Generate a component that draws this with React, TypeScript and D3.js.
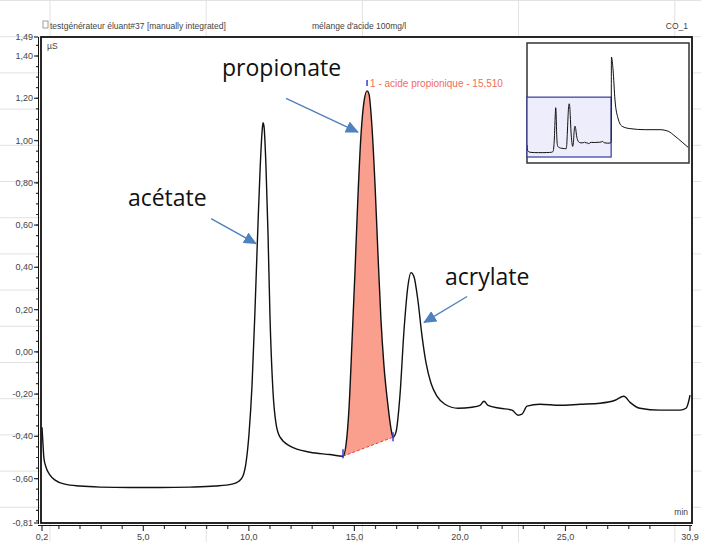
import * as d3 from "d3";

// chromatogram trace (min, µS)
const TIME = [
  0.2, 0.25, 0.29, 0.39, 0.58, 0.82, 1.29, 2.0, 2.95, 4.37, 5.79, 7.21, 8.4, 9.2, 9.53, 9.72, 9.87,
  10.01, 10.15, 10.29, 10.43, 10.53, 10.62, 10.67, 10.72, 10.81, 10.91, 11.0, 11.14, 11.29, 11.48,
  11.95, 12.9, 13.84, 14.46, 14.6, 14.74, 14.89, 15.03, 15.17, 15.31, 15.46, 15.6, 15.69, 15.83,
  15.98, 16.12, 16.26, 16.4, 16.59, 16.73, 16.83, 16.97, 17.16, 17.35, 17.54, 17.68, 17.82, 18.01,
  18.2, 18.39, 18.63, 18.91, 19.29, 19.91, 20.57, 20.95, 21.14, 21.33, 21.9, 22.47, 22.75, 22.94,
  23.18, 23.79, 24.74, 25.69, 26.64, 27.35, 27.77, 28.06, 28.53, 29.48, 30.43, 30.71, 30.85, 30.9,
];
const SIGNAL = [
  -0.357, -0.442, -0.503, -0.546, -0.583, -0.607, -0.626, -0.635, -0.64, -0.642, -0.642, -0.64,
  -0.635, -0.626, -0.612, -0.588, -0.522, -0.385, -0.158, 0.196, 0.597, 0.857, 1.032, 1.084, 1.065,
  0.881, 0.55, 0.172, -0.182, -0.342, -0.404, -0.446, -0.475, -0.486, -0.494, -0.442, -0.276, 0.054,
  0.385, 0.739, 1.022, 1.188, 1.235, 1.221, 1.07, 0.786, 0.456, 0.149, -0.064, -0.253, -0.361,
  -0.404, -0.38, -0.205, 0.101, 0.314, 0.375, 0.357, 0.243, 0.078, -0.05, -0.149, -0.21, -0.248,
  -0.267, -0.262, -0.253, -0.234, -0.253, -0.267, -0.276, -0.3, -0.295, -0.257, -0.248, -0.253,
  -0.248, -0.243, -0.229, -0.21, -0.239, -0.267, -0.276, -0.276, -0.267, -0.229, -0.205,
];
// rest of the run, only visible in the overview inset
const TAIL_TIME = [31.0, 31.6, 32.3, 33.4, 34.9, 37.8, 43.3, 48.7, 51.7, 54.2, 56.8, 59.0];
const TAIL_SIGNAL = [3.03, 2.53, 1.38, 0.68, 0.37, 0.28, 0.24, 0.24, 0.18, -0.01, -0.24, -0.44];

// manual integration of the propionate peak
const INT_START = 14.46;
const INT_END = 16.83;
const PEAK_TIME = 15.6;
const PEAK_VALUE = 1.235;
const PEAK_LABEL = "1 - acide propionique - 15,510";

const X_TICKS = [0.2, 5, 10, 15, 20, 25, 30.9];
const Y_TICKS = [1.49, 1.4, 1.2, 1.0, 0.8, 0.6, 0.4, 0.2, 0, -0.2, -0.4, -0.6, -0.81];

const ANNOTATIONS = [
  { text: "propionate", at: [8.73, 1.306], from: [11.76, 1.2], to: [15.17, 1.04] },
  { text: "acétate", at: [4.27, 0.692], from: [8.21, 0.63], to: [10.34, 0.512] },
  { text: "acrylate", at: [19.29, 0.314], from: [20.34, 0.262], to: [18.3, 0.139] },
];

const W = 701;
const H = 542;

export default function App() {
  const x = d3.scaleLinear().domain([0.2, 30.9]).range([42, 690]);
  const y = d3.scaleLinear().domain([-0.81, 1.49]).range([523, 37]);

  const pts: [number, number][] = TIME.map((t, i) => [t, SIGNAL[i]]);
  const line = d3
    .line<[number, number]>()
    .x((d) => x(d[0]))
    .y((d) => y(d[1]))
    .curve(d3.curveMonotoneX);

  // integrated area: curve between the marks, closed by the straight baseline
  const seg = pts.filter((d) => d[0] >= INT_START && d[0] <= INT_END);
  const first = seg[0];
  const last = seg[seg.length - 1];
  const areaPath = line(seg) + "Z";

  const fmtY = (v: number) => d3.format(".2f")(v).replace(".", ",").replace("−", "-");
  const fmtX = (v: number) => d3.format(".1f")(v).replace(".", ",");

  const minorY = d3.range(-0.8, 1.46, 0.05);
  const minorX = d3.range(1, 31, 1).filter((t) => t % 5 !== 0);

  // overview inset
  const xi = d3.scaleLinear().domain([0.2, 59.3]).range([527, 689]);
  const yi = d3.scaleLinear().domain([-1.04, 3.57]).range([163, 43]);
  const allPts: [number, number][] = pts.concat(TAIL_TIME.map((t, i) => [t, TAIL_SIGNAL[i]] as [number, number]));
  const insetLine = d3
    .line<[number, number]>()
    .x((d) => xi(d[0]))
    .y((d) => yi(d[1]))
    .curve(d3.curveMonotoneX);

  const gridV = d3.range(50, W, 156.2);
  const gridH = d3.range(0.5, H, 36.2);

  const arrowBlue = "#4f81bd";
  const startV = SIGNAL[TIME.indexOf(INT_START)];
  const endV = SIGNAL[TIME.indexOf(INT_END)];

  return (
    <svg
      width={W}
      height={H}
      style={{ position: "absolute", left: 0, top: 0, background: "#fff" }}
      fontFamily="'Liberation Sans', Arial, sans-serif"
    >
      <defs>
        <marker id="ah" markerUnits="userSpaceOnUse" markerWidth="14" markerHeight="12" refX="12" refY="6" orient="auto">
          <path d="M0,0 L13,6 L0,12 Z" fill={arrowBlue} />
        </marker>
        <clipPath id="insetClip">
          <rect x={527} y={43} width={162} height={120} />
        </clipPath>
      </defs>

      {/* page grid behind the screenshot */}
      <g stroke="#e2e2e2" strokeWidth={1}>
        {gridV.map((gx) => (
          <line key={"v" + gx} x1={gx} x2={gx} y1={0} y2={H} />
        ))}
        {gridH.map((gy) => (
          <line key={"h" + gy} x1={0} x2={W} y1={gy} y2={gy} />
        ))}
      </g>
      <rect x={41} y={y(1.49)} width={651} height={y(-0.81) - y(1.49)} fill="#fff" />

      {/* header */}
      <rect x={43} y={21} width={5} height={7} fill="#fff" stroke="#888" strokeWidth={0.8} />
      <g fontSize={8.5} fill="#444">
        <text x={50} y={29}>testgénérateur éluant#37 [manually integrated]</text>
        <text x={312} y={29}>mélange d'acide 100mg/l</text>
        <text x={688} y={29} textAnchor="end">CO_1</text>
        <text x={47} y={49}>µS</text>
        <text x={688} y={515} textAnchor="end">min</text>
      </g>

      {/* integrated peak */}
      <path d={areaPath} fill="#fa9e8e" stroke="none" />
      <line
        x1={x(first[0])}
        y1={y(first[1])}
        x2={x(last[0])}
        y2={y(last[1])}
        stroke="#e53a3a"
        strokeWidth={1}
        strokeDasharray="3,2"
      />

      {/* trace */}
      <path d={line(pts) || ""} fill="none" stroke="#111" strokeWidth={1.4} />

      {/* integration marks */}
      <g stroke="#3a3ad0" strokeWidth={1.5}>
        <line x1={x(INT_START)} x2={x(INT_START)} y1={y(startV) - 7} y2={y(startV) + 2} />
        <line x1={x(INT_END)} x2={x(INT_END)} y1={y(endV) - 5} y2={y(endV) + 4} />
        <line x1={x(PEAK_TIME)} x2={x(PEAK_TIME)} y1={y(PEAK_VALUE) - 11} y2={y(PEAK_VALUE) - 5} />
      </g>
      <text x={x(PEAK_TIME) + 3} y={y(PEAK_VALUE) - 4} fontSize={10} fill="#f26b5b">
        {PEAK_LABEL}
      </text>

      {/* frame and axes */}
      <rect x={41} y={y(1.49)} width={651} height={y(-0.81) - y(1.49)} fill="none" stroke="#111" strokeWidth={1.8} />
      <line x1={38.5} x2={38.5} y1={y(1.49)} y2={y(-0.81) + 1} stroke="#111" strokeWidth={1} />
      <line x1={38} x2={692} y1={525.5} y2={525.5} stroke="#111" strokeWidth={1} />

      <g fill="#444" fontSize={9}>
        {Y_TICKS.map((v) => (
          <g key={"y" + v}>
            <line x1={34} x2={38} y1={y(v)} y2={y(v)} stroke="#333" strokeWidth={1.2} />
            <text x={33} y={y(v) + 3} textAnchor="end">
              {fmtY(v)}
            </text>
          </g>
        ))}
        {minorY.map((v) => (
          <line key={"my" + v} x1={36} x2={38} y1={y(v)} y2={y(v)} stroke="#333" strokeWidth={1.2} />
        ))}
        {X_TICKS.map((t) => (
          <g key={"x" + t}>
            <line x1={x(t)} x2={x(t)} y1={526} y2={531} stroke="#333" strokeWidth={1.2} />
            <text x={x(t)} y={540} textAnchor="middle">
              {fmtX(t)}
            </text>
          </g>
        ))}
        {minorX.map((t) => (
          <line key={"mx" + t} x1={x(t)} x2={x(t)} y1={526} y2={529} stroke="#333" strokeWidth={1.2} />
        ))}
      </g>

      {/* overview inset */}
      <rect x={527} y={43} width={162} height={120} fill="#fff" stroke="#333" strokeWidth={1.5} />
      <rect
        x={xi(0.2)}
        y={yi(1.49)}
        width={xi(30.9) - xi(0.2)}
        height={yi(-0.81) - yi(1.49)}
        fill="#ededfb"
        stroke="#3535a5"
        strokeWidth={1.2}
      />
      <path d={insetLine(allPts) || ""} fill="none" stroke="#111" strokeWidth={1} clipPath="url(#insetClip)" />

      {/* annotations */}
      {ANNOTATIONS.map((a) => (
        <g key={a.text}>
          <line
            x1={x(a.from[0])}
            y1={y(a.from[1])}
            x2={x(a.to[0])}
            y2={y(a.to[1])}
            stroke={arrowBlue}
            strokeWidth={1.4}
            markerEnd="url(#ah)"
          />
          <text x={x(a.at[0])} y={y(a.at[1])} fontSize={23} fill="#111" fontFamily="'Open Sans', sans-serif">
            {a.text}
          </text>
        </g>
      ))}
    </svg>
  );
}
